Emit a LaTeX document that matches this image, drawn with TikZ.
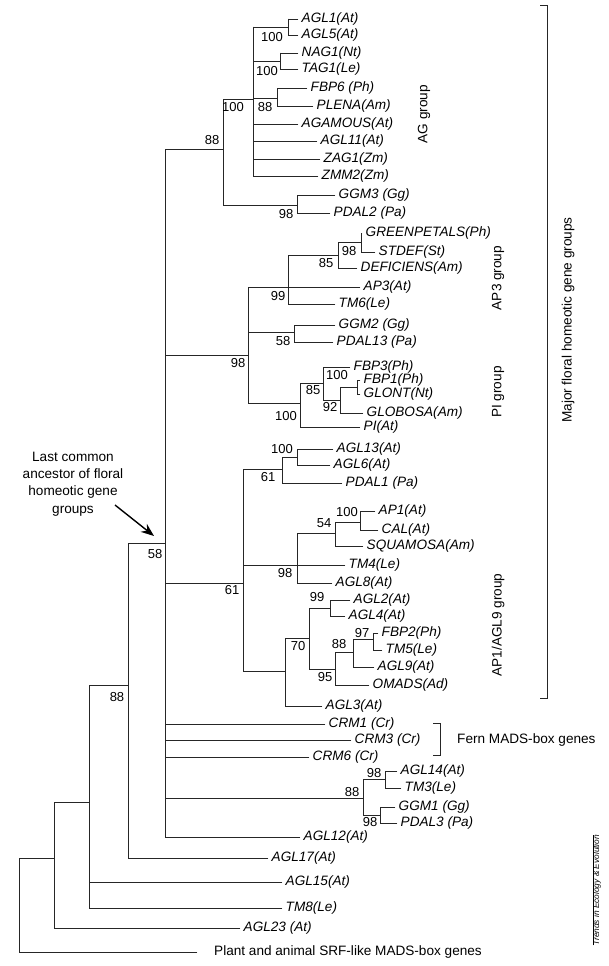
\documentclass[tikz,border=0pt]{standalone}
\usepackage{fontspec}
\setmainfont{Liberation Sans}
\usetikzlibrary{arrows.meta}
\newcommand{\hb}[2]{\draw[br] (#1 |- #2) -- (#2);}
\newcommand{\vb}[3]{\draw[br] (#1 |- #2) -- (#1 |- #3);}
\tikzset{
  br/.style={line width=0.8pt, black!85, line cap=rect},
  leaf/.style={anchor=west, inner xsep=3.5pt, inner ysep=1pt, font=\fontsize{13.6}{16}\selectfont\itshape},
  bs/.style={font=\fontsize{13}{15}\selectfont, inner sep=0pt},
  grp/.style={font=\fontsize{13.6}{16}\selectfont, rotate=90, inner sep=0pt},
  brk/.style={line width=0.8pt, black!85},
}
\begin{document}
\begin{tikzpicture}[x=1pt,y=-1pt]
\useasboundingbox (0,0) rectangle (608,966);
% ---------- leaves ----------
\node[leaf] (agl1) at (298,19) {AGL1(At)};
\node[leaf] (agl5) at (298,35) {AGL5(At)};
\node[leaf] (nag1) at (298,53) {NAG1(Nt)};
\node[leaf] (tag1) at (298,69) {TAG1(Le)};
\node[leaf] (fbp6) at (307,88) {FBP6 (Ph)};
\node[leaf] (plena) at (313,106) {PLENA(Am)};
\node[leaf] (agamous) at (298,124) {AGAMOUS(At)};
\node[leaf] (agl11) at (317,141) {AGL11(At)};
\node[leaf] (zag1) at (320,159) {ZAG1(Zm)};
\node[leaf] (zmm2) at (318,176) {ZMM2(Zm)};
\node[leaf] (ggm3) at (335,195) {GGM3 (Gg)};
\node[leaf] (pdal2) at (330,213) {PDAL2 (Pa)};
\node[leaf] (greenp) at (362,233) {GREENPETALS(Ph)};
\node[leaf] (stdef) at (375,252) {STDEF(St)};
\node[leaf] (defic) at (357,268) {DEFICIENS(Am)};
\node[leaf] (ap3) at (360,287) {AP3(At)};
\node[leaf] (tm6) at (335,304) {TM6(Le)};
\node[leaf] (ggm2) at (335,325) {GGM2 (Gg)};
\node[leaf] (pdal13) at (333,342) {PDAL13 (Pa)};
\node[leaf] (fbp3) at (350,367) {FBP3(Ph)};
\node[leaf] (fbp1) at (360,380) {FBP1(Ph)};
\node[leaf] (glont) at (360,394) {GLONT(Nt)};
\node[leaf] (globosa) at (363,413) {GLOBOSA(Am)};
\node[leaf] (pi) at (360,427) {PI(At)};
\node[leaf] (agl13) at (333,449) {AGL13(At)};
\node[leaf] (agl6) at (330,465) {AGL6(At)};
\node[leaf] (pdal1) at (342,483) {PDAL1 (Pa)};
\node[leaf] (ap1) at (375,511) {AP1(At)};
\node[leaf] (cal) at (378,530) {CAL(At)};
\node[leaf] (squamosa) at (363,546) {SQUAMOSA(Am)};
\node[leaf] (tm4) at (345,565) {TM4(Le)};
\node[leaf] (agl8) at (332,583) {AGL8(At)};
\node[leaf] (agl2) at (350,600) {AGL2(At)};
\node[leaf] (agl4) at (345,616) {AGL4(At)};
\node[leaf] (fbp2) at (378,633) {FBP2(Ph)};
\node[leaf] (tm5) at (382,650) {TM5(Le)};
\node[leaf] (agl9) at (374,667) {AGL9(At)};
\node[leaf] (omads) at (369,685) {OMADS(Ad)};
\node[leaf] (agl3) at (322,706) {AGL3(At)};
\node[leaf] (crm1) at (325,724) {CRM1 (Cr)};
\node[leaf] (crm3) at (351,740) {CRM3 (Cr)};
\node[leaf] (crm6) at (309,757) {CRM6 (Cr)};
\node[leaf] (agl14) at (397,771) {AGL14(At)};
\node[leaf] (tm3) at (401,788) {TM3(Le)};
\node[leaf] (ggm1) at (395,807) {GGM1 (Gg)};
\node[leaf] (pdal3) at (397,823) {PDAL3 (Pa)};
\node[leaf] (agl12) at (300,837) {AGL12(At)};
\node[leaf] (agl17) at (268,858) {AGL17(At)};
\node[leaf] (agl15) at (282,882) {AGL15(At)};
\node[leaf] (tm8) at (282,908) {TM8(Le)};
\node[leaf] (agl23) at (240,928) {AGL23 (At)};
\node[leaf, font=\fontsize{13.6}{16}\selectfont, inner xsep=17pt] (plant) at (197,952) {Plant and animal SRF-like MADS-box genes};
% ---------- internal nodes ----------
\coordinate (r) at (19,900);
\coordinate (n54) at (54,858);
\coordinate (n89) at (89,802);
\coordinate (n128) at (128,685);
\coordinate (n165) at (165,543);
\coordinate (nag) at (223,149);
\coordinate (nagc) at (253,99);
\coordinate (n288) at (288,27);
\coordinate (n280) at (280,61);
\coordinate (n277) at (277,98);
\coordinate (nggm) at (297,205);
\coordinate (nap3) at (248,355);
\coordinate (n288b) at (288,287);
\coordinate (n338) at (338,255);
\coordinate (n361) at (361,242);
\coordinate (n294) at (294,332);
\coordinate (n300) at (300,403);
\coordinate (n323) at (323,383);
\coordinate (n340) at (340,400);
\coordinate (n357) at (357,387);
\coordinate (nap1) at (243,583);
\coordinate (n282) at (282,469);
\coordinate (n297a) at (297,457);
\coordinate (n297) at (297,565);
\coordinate (n335) at (335,533);
\coordinate (n360) at (360,522);
\coordinate (n285) at (285,671);
\coordinate (n309) at (309,638);
\coordinate (n330) at (330,608);
\coordinate (n335b) at (335,669);
\coordinate (n353) at (353,652);
\coordinate (n373) at (373,639);
\coordinate (n363) at (363,798);
\coordinate (n385) at (385,779);
\coordinate (n380) at (380,815);
% ---------- branches ----------
\vb{r}{n54}{plant} \hb{r}{n54} \hb{r}{plant}
\vb{n54}{n89}{agl23} \hb{n54}{n89} \hb{n54}{agl23}
\vb{n89}{n128}{tm8} \hb{n89}{n128} \hb{n89}{agl15} \hb{n89}{tm8}
\vb{n128}{n165}{agl17} \hb{n128}{n165} \hb{n128}{agl17}
\vb{n165}{nag}{agl12} \hb{n165}{nag} \hb{n165}{nap3} \hb{n165}{nap1}
\hb{n165}{crm1} \hb{n165}{crm3} \hb{n165}{crm6} \hb{n165}{n363} \hb{n165}{agl12}
\vb{nag}{nagc}{nggm} \hb{nag}{nagc} \hb{nag}{nggm}
\vb{nagc}{n288}{zmm2} \hb{nagc}{n288} \hb{nagc}{n280} \hb{nagc}{n277}
\hb{nagc}{agamous} \hb{nagc}{agl11} \hb{nagc}{zag1} \hb{nagc}{zmm2}
\vb{n288}{agl1}{agl5} \hb{n288}{agl1} \hb{n288}{agl5}
\vb{n280}{nag1}{tag1} \hb{n280}{nag1} \hb{n280}{tag1}
\vb{n277}{fbp6}{plena} \hb{n277}{fbp6} \hb{n277}{plena}
\vb{nggm}{ggm3}{pdal2} \hb{nggm}{ggm3} \hb{nggm}{pdal2}
\vb{nap3}{n288b}{n300} \hb{nap3}{n288b} \hb{nap3}{n294} \hb{nap3}{n300}
\vb{n288b}{n338}{tm6} \hb{n288b}{n338} \hb{n288b}{ap3} \hb{n288b}{tm6}
\vb{n338}{n361}{defic} \hb{n338}{n361} \hb{n338}{defic}
\vb{n361}{greenp}{stdef} \hb{n361}{greenp} \hb{n361}{stdef}
\vb{n294}{ggm2}{pdal13} \hb{n294}{ggm2} \hb{n294}{pdal13}
\vb{n300}{n323}{pi} \hb{n300}{n323} \hb{n300}{pi}
\vb{n323}{fbp3}{n340} \hb{n323}{fbp3} \hb{n323}{n340}
\vb{n340}{n357}{globosa} \hb{n340}{n357} \hb{n340}{globosa}
\vb{n357}{fbp1}{glont} \hb{n357}{fbp1} \hb{n357}{glont}
\vb{nap1}{n282}{n285} \hb{nap1}{n282} \hb{nap1}{n297} \hb{nap1}{n285}
\vb{n282}{n297a}{pdal1} \hb{n282}{n297a} \hb{n282}{pdal1}
\vb{n297a}{agl13}{agl6} \hb{n297a}{agl13} \hb{n297a}{agl6}
\vb{n297}{n335}{agl8} \hb{n297}{n335} \hb{n297}{tm4} \hb{n297}{agl8}
\vb{n335}{n360}{squamosa} \hb{n335}{n360} \hb{n335}{squamosa}
\vb{n360}{ap1}{cal} \hb{n360}{ap1} \hb{n360}{cal}
\vb{n285}{n309}{agl3} \hb{n285}{n309} \hb{n285}{agl3}
\vb{n309}{n330}{n335b} \hb{n309}{n330} \hb{n309}{n335b}
\vb{n330}{agl2}{agl4} \hb{n330}{agl2} \hb{n330}{agl4}
\vb{n335b}{n353}{omads} \hb{n335b}{n353} \hb{n335b}{omads}
\vb{n353}{n373}{agl9} \hb{n353}{n373} \hb{n353}{agl9}
\vb{n373}{fbp2}{tm5} \hb{n373}{fbp2} \hb{n373}{tm5}
\vb{n363}{n385}{n380} \hb{n363}{n385} \hb{n363}{n380}
\vb{n385}{agl14}{tm3} \hb{n385}{agl14} \hb{n385}{tm3}
\vb{n380}{ggm1}{pdal3} \hb{n380}{ggm1} \hb{n380}{pdal3}
% ---------- bootstrap values ----------
\node[bs] (b1) at (272,37) {100};
\node[bs] (b2) at (267,71) {100};
\node[bs] (b3) at (265,107) {88};
\node[bs] (b4) at (233,107) {100};
\node[bs] (b5) at (212,140) {88};
\node[bs] (b6) at (286,214) {98};
\node[bs] (b7) at (349,251) {98};
\node[bs] (b8) at (326,263) {85};
\node[bs] (b9) at (278,296) {99};
\node[bs] (b10) at (283,341) {58};
\node[bs] (b11) at (238,363) {98};
\node[bs] (b12) at (337,375) {100};
\node[bs] (b13) at (313,390) {85};
\node[bs] (b14) at (330,407) {92};
\node[bs] (b15) at (286,416) {100};
\node[bs] (b16) at (282,449) {100};
\node[bs] (b17) at (268,477) {61};
\node[bs] (b18) at (347,512) {100};
\node[bs] (b19) at (324,523) {54};
\node[bs] (b20) at (285,573) {98};
\node[bs] (b21) at (155,554) {58};
\node[bs] (b22) at (232,590) {61};
\node[bs] (b23) at (317,597) {99};
\node[bs] (b24) at (362,633) {97};
\node[bs] (b25) at (339,644) {88};
\node[bs] (b26) at (298,646) {70};
\node[bs] (b27) at (325,677) {95};
\node[bs] (b28) at (117,697) {88};
\node[bs] (b29) at (374,773) {98};
\node[bs] (b30) at (352,792) {88};
\node[bs] (b31) at (370,822) {98};
% ---------- annotations ----------
\node[align=center, font=\fontsize{13.6}{17.4}\selectfont, inner sep=0pt] (lca) at (73,484)
  {Last common\\ancestor of floral\\homeotic gene\\groups};
\coordinate (arrS) at (115,505);
\coordinate (arrE) at (154,536);
\draw[line width=1.4pt, -{Stealth[length=13pt,width=10pt]}] (arrS) -- (arrE);
\node[grp] (gAG) at (424,114) {AG group};
\node[grp] (gAP3) at (498,278) {AP3 group};
\node[grp] (gPI) at (498,392) {PI group};
\node[grp] (gAP1) at (498,625) {AP1/AGL9 group};
\node[grp] (gMaj) at (568,320) {Major floral homeotic gene groups};
\coordinate (mb1) at (540,5);
\coordinate (mb2) at (547,5);
\coordinate (mb3) at (547,698);
\coordinate (mb4) at (540,698);
\draw[brk] (mb1) -- (mb2) -- (mb3) -- (mb4);
\coordinate (fb1) at (433,723);
\coordinate (fb2) at (440,723);
\coordinate (fb3) at (440,755);
\coordinate (fb4) at (433,755);
\draw[brk] (fb1) -- (fb2) -- (fb3) -- (fb4);
\node[anchor=west, inner sep=0pt, font=\fontsize{13.6}{16}\selectfont] (fern) at (457,740) {Fern MADS-box genes};
\node[rotate=90, inner sep=0pt, font=\fontsize{8.3}{10}\selectfont\itshape] (tree) at (597,890) {Trends in Ecology \& Evolution};
\draw[line width=0.6pt] (tree.north west) -- (tree.north east);
\end{tikzpicture}
\end{document}
